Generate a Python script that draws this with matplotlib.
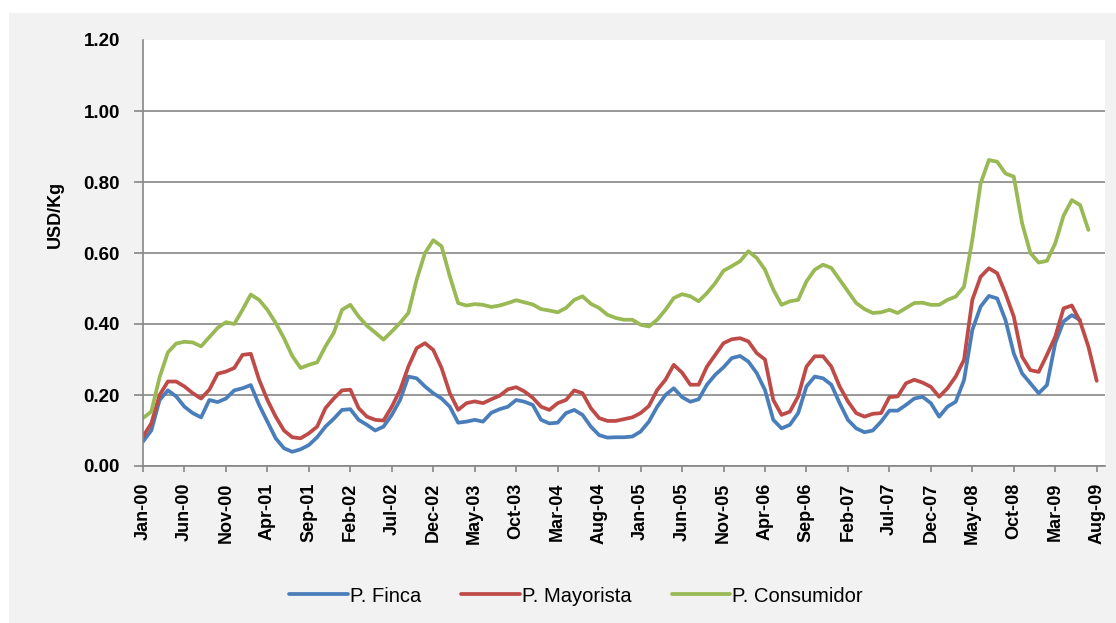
import numpy as np
import matplotlib
matplotlib.use("Agg")
import matplotlib.pyplot as plt
from matplotlib.patches import Rectangle

# monthly prices, Jan-00 .. Aug-09 (USD/Kg)
finca = [0.069, 0.10, 0.186, 0.213, 0.196, 0.167, 0.149, 0.137, 0.186, 0.18,
         0.19, 0.213, 0.219, 0.228, 0.172, 0.125, 0.078, 0.05, 0.04, 0.047,
         0.059, 0.081, 0.111, 0.133, 0.158, 0.16, 0.13, 0.116, 0.10, 0.111,
         0.144, 0.186, 0.252, 0.247, 0.224, 0.205, 0.19, 0.167, 0.122, 0.125,
         0.13, 0.125, 0.15, 0.16, 0.167, 0.186, 0.181, 0.172, 0.13, 0.12,
         0.122, 0.149, 0.158, 0.144, 0.111, 0.087, 0.08, 0.081, 0.081, 0.083,
         0.097, 0.125, 0.167, 0.20, 0.219, 0.194, 0.181, 0.188, 0.229, 0.257,
         0.278, 0.304, 0.31, 0.294, 0.262, 0.214, 0.13, 0.106, 0.116, 0.149,
         0.224, 0.252, 0.247, 0.229, 0.177, 0.13, 0.106, 0.095, 0.10, 0.125,
         0.156, 0.156, 0.172, 0.19, 0.195, 0.177, 0.139, 0.167, 0.181, 0.242,
         0.383, 0.449, 0.479, 0.472, 0.411, 0.317, 0.261, 0.233, 0.205, 0.228,
         0.346, 0.407, 0.425, 0.411, np.nan, np.nan]

mayorista = [0.083, 0.12, 0.20, 0.238, 0.238, 0.224, 0.205, 0.19, 0.215, 0.26,
             0.266, 0.276, 0.313, 0.316, 0.243, 0.186, 0.139, 0.10, 0.081, 0.078,
             0.092, 0.111, 0.163, 0.19, 0.213, 0.215, 0.163, 0.139, 0.13, 0.128,
             0.167, 0.214, 0.28, 0.332, 0.346, 0.327, 0.276, 0.205, 0.158, 0.177,
             0.182, 0.177, 0.188, 0.198, 0.216, 0.222, 0.21, 0.192, 0.167, 0.158,
             0.177, 0.186, 0.213, 0.205, 0.163, 0.135, 0.127, 0.127, 0.132, 0.137,
             0.149, 0.169, 0.214, 0.243, 0.285, 0.263, 0.229, 0.229, 0.28, 0.313,
             0.346, 0.357, 0.36, 0.351, 0.318, 0.30, 0.186, 0.144, 0.153, 0.196,
             0.28, 0.309, 0.309, 0.28, 0.224, 0.182, 0.149, 0.139, 0.147, 0.149,
             0.194, 0.196, 0.233, 0.243, 0.235, 0.223, 0.195, 0.219, 0.252, 0.299,
             0.468, 0.533, 0.557, 0.543, 0.486, 0.421, 0.308, 0.27, 0.265, 0.313,
             0.364, 0.444, 0.452, 0.407, 0.336, 0.24]

consumidor = [0.135, 0.153, 0.25, 0.32, 0.345, 0.35, 0.348, 0.337, 0.363, 0.389,
              0.405, 0.40, 0.44, 0.483, 0.468, 0.44, 0.403, 0.36, 0.31, 0.276,
              0.285, 0.292, 0.337, 0.375, 0.44, 0.454, 0.421, 0.395, 0.376, 0.356,
              0.379, 0.403, 0.431, 0.525, 0.60, 0.636, 0.619, 0.534, 0.459, 0.452,
              0.456, 0.454, 0.448, 0.452, 0.459, 0.467, 0.461, 0.455, 0.442, 0.438,
              0.433, 0.445, 0.468, 0.478, 0.457, 0.445, 0.426, 0.417, 0.412, 0.412,
              0.398, 0.393, 0.412, 0.44, 0.473, 0.484, 0.478, 0.464, 0.487, 0.515,
              0.55, 0.563, 0.577, 0.605, 0.586, 0.553, 0.497, 0.454, 0.464, 0.468,
              0.52, 0.553, 0.567, 0.558, 0.525, 0.492, 0.459, 0.442, 0.431, 0.433,
              0.44, 0.431, 0.445, 0.459, 0.46, 0.454, 0.454, 0.468, 0.477, 0.505,
              0.637, 0.796, 0.862, 0.857, 0.824, 0.815, 0.684, 0.60, 0.573, 0.578,
              0.627, 0.705, 0.749, 0.735, 0.665, np.nan]

tick_labels = ["Jan-00", "Jun-00", "Nov-00", "Apr-01", "Sep-01", "Feb-02",
               "Jul-02", "Dec-02", "May-03", "Oct-03", "Mar-04", "Aug-04",
               "Jan-05", "Jun-05", "Nov-05", "Apr-06", "Sep-06", "Feb-07",
               "Jul-07", "Dec-07", "May-08", "Oct-08", "Mar-09", "Aug-09"]
tick_step = 5

series_names = ["P. Finca", "P. Mayorista", "P. Consumidor"]
colors = ["#4a7ebb", "#be4b48", "#98b954"]

months = np.arange(len(mayorista))
grid_color = "#868686"

fig = plt.figure(figsize=(11.16, 6.23), dpi=100)
fig.patch.set_facecolor("white")
fig.add_artist(Rectangle((9 / 1116, 0), 1 - 9 / 1116, 1 - 13 / 623,
                         transform=fig.transFigure, facecolor="#f2f2f2",
                         edgecolor="none", zorder=-1))

ax = fig.add_axes([143 / 1116, 1 - 466 / 623, (1105 - 143) / 1116, (466 - 40) / 623])
ax.set_facecolor("white")

for vals, name, col in zip([finca, mayorista, consumidor], series_names, colors):
    ax.plot(months, vals, color=col, lw=2.7, label=name, solid_capstyle="round")

ax.set_xlim(0, 116)
ax.set_ylim(0, 1.2)
ax.set_yticks(np.arange(0, 1.21, 0.2))
ax.set_yticklabels([f"{v:.2f}" for v in np.arange(0, 1.21, 0.2)])
ax.set_xticks(np.arange(0, len(tick_labels) * tick_step, tick_step))
ax.set_xticklabels(tick_labels, rotation=90)

for lab in ax.get_yticklabels() + ax.get_xticklabels():
    lab.set_fontfamily("Liberation Sans")
    lab.set_fontweight("bold")
for lab in ax.get_yticklabels():
    lab.set_fontsize(13.5)
for lab in ax.get_xticklabels():
    lab.set_fontsize(13)

ax.yaxis.grid(True, color=grid_color, lw=1.2)
ax.set_axisbelow(True)
top_tick = ax.yaxis.get_major_ticks()[-1]
top_tick.gridline.set_visible(False)
top_tick.tick1line.set_visible(False)

for side in ["top", "right"]:
    ax.spines[side].set_visible(False)
for side in ["left", "bottom"]:
    ax.spines[side].set_color(grid_color)
    ax.spines[side].set_linewidth(1.2)

ax.tick_params(axis="y", length=6.5, width=1.2, color=grid_color, pad=10)
ax.tick_params(axis="x", length=4, width=1.2, color=grid_color, pad=8)

ax.set_ylabel("USD/Kg", fontsize=13, fontweight="bold", family="Liberation Sans")
ax.yaxis.set_label_coords(-0.082, 0.59)

fig.legend(loc="center", bbox_to_anchor=(576 / 1116, 1 - 596 / 623), ncol=3,
           frameon=False, handlelength=2.9, handletextpad=0.1, columnspacing=2.0,
           prop={"family": "Liberation Sans", "size": 14.5})

fig.savefig("out.png", dpi=100, facecolor=fig.get_facecolor())
